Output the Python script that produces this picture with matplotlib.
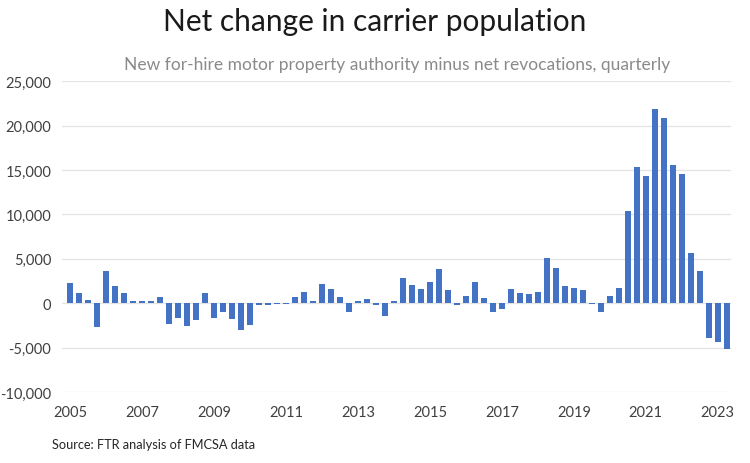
import matplotlib.pyplot as plt
from matplotlib.ticker import FuncFormatter

plt.rcParams['font.family'] = ['Lato', 'DejaVu Sans']

# quarterly net change, 2005 Q1 .. 2023 Q2
quarters = [f'{y} Q{q}' for y in range(2005, 2024) for q in range(1, 5)][:74]
net_change = [
    2300, 1100, 400, -2700,
    3600, 1900, 1100, 300,
    300, 300, 700, -2300,
    -1700, -2600, -1900, 1200,
    -1700, -1000, -1800, -3000,
    -2400, -150, -150, -100,
    -100, 700, 1300, 300,
    2200, 1600, 700, -1000,
    300, 500, -200, -1400,
    200, 2800, 2100, 1600,
    2400, 3900, 1500, -200,
    800, 2400, 600, -1000,
    -600, 1600, 1100, 1000,
    1300, 5100, 4000, 1900,
    1700, 1500, -100, -1000,
    800, 1700, 10400, 15300,
    14300, 21900, 20800, 15600,
    14500, 5700, 3600, -3900,
    -4400, -5200,
]
year_labels = [str(y) for y in range(2005, 2024, 2)]
y_ticks = [-10000, -5000, 0, 5000, 10000, 15000, 20000, 25000]

fig = plt.figure(figsize=(7.5, 4.64), dpi=100)
ax = fig.add_axes([0.083, 0.153, 0.892, 0.67])

x = list(range(len(net_change)))
ax.bar(x, net_change, width=0.7, color='#4472C4', zorder=3)

ax.set_ylim(-10000, 25000)
ax.set_yticks(y_ticks)
ax.yaxis.set_major_formatter(FuncFormatter(lambda v, p: f'{int(v):,}'))
ax.set_xlim(-0.9, 73.5)
ax.set_xticks([quarters.index(f'{y} Q1') for y in year_labels])
ax.set_xticklabels(year_labels)

ax.grid(axis='y', color='#e3e3e3', linewidth=0.9, zorder=0)
for s in ax.spines.values():
    s.set_visible(False)
ax.tick_params(axis='both', length=0, labelsize=10.5, colors='#404040')
ax.tick_params(axis='y', pad=8)
ax.tick_params(axis='x', pad=9)

fig.text(0.5, 0.952, 'Net change in carrier population', ha='center', va='center',
         fontsize=21.5, color='#1a1a1a')
fig.text(0.53, 0.86, 'New for-hire motor property authority minus net revocations, quarterly',
         ha='center', va='center', fontsize=12.5, color='#8a8a8a')
fig.text(0.069, 0.041, 'Source: FTR analysis of FMCSA data', ha='left', va='center',
         fontsize=9.2, color='#262626')

fig.savefig('out.png', dpi=100)
